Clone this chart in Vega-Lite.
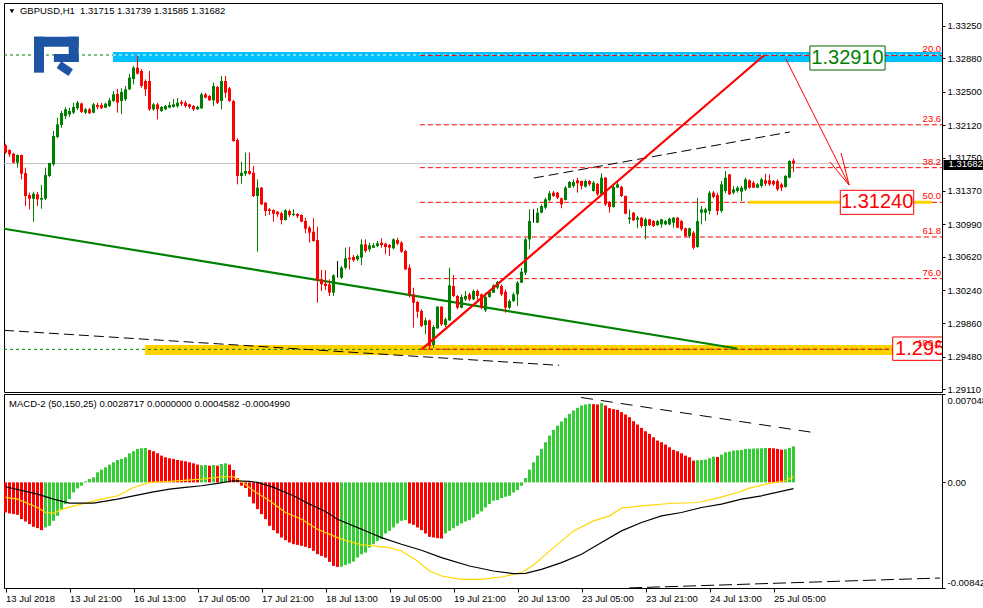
{
"$schema": "https://vega.github.io/schema/vega-lite/v6.json",
"background": "white",
"padding": {"left": 2, "top": 2, "right": 0, "bottom": 0},
"autosize": {"type": "pad"},
"spacing": 2,
"bounds": "flush",
"resolve": {"scale": {"color": "independent", "stroke": "independent"}},
"config": {
  "view": {"stroke": "#000000", "strokeWidth": 1},
  "axis": {"labelFont": "Liberation Sans", "labelFontSize": 9.5, "labelColor": "#000000", "tickColor": "#000000", "domainColor": "#000000", "grid": false, "title": null, "labelOverlap": false, "zindex": 0},
  "text": {"font": "Liberation Sans"}
},
"datasets": {
  "candles": [
{"i":0,"o":1.31893,"h":1.31908,"l":1.31794,"c":1.31806},
{"i":1,"o":1.31837,"h":1.31844,"l":1.31757,"c":1.31787},
{"i":2,"o":1.31794,"h":1.31806,"l":1.31683,"c":1.31692},
{"i":3,"o":1.31692,"h":1.31787,"l":1.31635,"c":1.31779},
{"i":4,"o":1.31779,"h":1.31785,"l":1.31502,"c":1.31566},
{"i":5,"o":1.31574,"h":1.31635,"l":1.31198,"c":1.31312},
{"i":6,"o":1.31323,"h":1.3135,"l":1.3116,"c":1.31281},
{"i":7,"o":1.31281,"h":1.31361,"l":1.31019,"c":1.31338},
{"i":8,"o":1.31331,"h":1.31358,"l":1.31198,"c":1.31274},
{"i":9,"o":1.3127,"h":1.31437,"l":1.31167,"c":1.31289},
{"i":10,"o":1.31281,"h":1.31635,"l":1.31266,"c":1.31551},
{"i":11,"o":1.3154,"h":1.31692,"l":1.31529,"c":1.31688},
{"i":12,"o":1.31673,"h":1.32053,"l":1.31654,"c":1.31996},
{"i":13,"o":1.31985,"h":1.32205,"l":1.3197,"c":1.32129},
{"i":14,"o":1.32121,"h":1.32281,"l":1.32091,"c":1.32258},
{"i":15,"o":1.32224,"h":1.32327,"l":1.3219,"c":1.323},
{"i":16,"o":1.32243,"h":1.32319,"l":1.32213,"c":1.32281},
{"i":17,"o":1.32262,"h":1.32376,"l":1.32247,"c":1.32327},
{"i":18,"o":1.32312,"h":1.32395,"l":1.32292,"c":1.32376},
{"i":19,"o":1.32367,"h":1.32376,"l":1.32258,"c":1.3227},
{"i":20,"o":1.32262,"h":1.32315,"l":1.32247,"c":1.323},
{"i":21,"o":1.323,"h":1.32315,"l":1.32247,"c":1.32255},
{"i":22,"o":1.32262,"h":1.32372,"l":1.32255,"c":1.32357},
{"i":23,"o":1.32349,"h":1.32376,"l":1.323,"c":1.32327},
{"i":24,"o":1.32349,"h":1.32372,"l":1.32304,"c":1.32312},
{"i":25,"o":1.32319,"h":1.32376,"l":1.32312,"c":1.32364},
{"i":26,"o":1.32338,"h":1.32429,"l":1.32327,"c":1.32403},
{"i":27,"o":1.32395,"h":1.32509,"l":1.32384,"c":1.32471},
{"i":28,"o":1.32475,"h":1.32532,"l":1.32262,"c":1.32376},
{"i":29,"o":1.32395,"h":1.3254,"l":1.32243,"c":1.32498},
{"i":30,"o":1.32414,"h":1.32566,"l":1.32395,"c":1.32528},
{"i":31,"o":1.32528,"h":1.32703,"l":1.3252,"c":1.32661},
{"i":32,"o":1.32646,"h":1.32794,"l":1.32585,"c":1.32775},
{"i":33,"o":1.32775,"h":1.32914,"l":1.32699,"c":1.32706},
{"i":34,"o":1.32737,"h":1.3276,"l":1.32547,"c":1.32566},
{"i":35,"o":1.32623,"h":1.32642,"l":1.32452,"c":1.32528},
{"i":36,"o":1.32623,"h":1.32737,"l":1.32281,"c":1.323},
{"i":37,"o":1.323,"h":1.32372,"l":1.32281,"c":1.32357},
{"i":38,"o":1.32357,"h":1.32376,"l":1.32186,"c":1.323},
{"i":39,"o":1.32281,"h":1.32338,"l":1.3227,"c":1.32327},
{"i":40,"o":1.323,"h":1.32349,"l":1.32292,"c":1.32338},
{"i":41,"o":1.32319,"h":1.32384,"l":1.32312,"c":1.32349},
{"i":42,"o":1.32327,"h":1.32418,"l":1.32319,"c":1.32357},
{"i":43,"o":1.32335,"h":1.32426,"l":1.32319,"c":1.32376},
{"i":44,"o":1.32384,"h":1.32406,"l":1.32338,"c":1.32364},
{"i":45,"o":1.32376,"h":1.32398,"l":1.32319,"c":1.32338},
{"i":46,"o":1.32357,"h":1.32364,"l":1.32304,"c":1.32327},
{"i":47,"o":1.32338,"h":1.32349,"l":1.32281,"c":1.323},
{"i":48,"o":1.323,"h":1.32338,"l":1.32292,"c":1.32327},
{"i":49,"o":1.32312,"h":1.3249,"l":1.32304,"c":1.32471},
{"i":50,"o":1.32471,"h":1.32486,"l":1.32426,"c":1.32433},
{"i":51,"o":1.32452,"h":1.32463,"l":1.32395,"c":1.32403},
{"i":52,"o":1.32403,"h":1.32604,"l":1.32338,"c":1.32566},
{"i":53,"o":1.32555,"h":1.32566,"l":1.32361,"c":1.32376},
{"i":54,"o":1.32395,"h":1.3268,"l":1.323,"c":1.32623},
{"i":55,"o":1.32623,"h":1.3268,"l":1.32433,"c":1.3249},
{"i":56,"o":1.3254,"h":1.32555,"l":1.32384,"c":1.32395},
{"i":57,"o":1.32395,"h":1.32406,"l":1.31928,"c":1.31939},
{"i":58,"o":1.3195,"h":1.3197,"l":1.31445,"c":1.3154},
{"i":59,"o":1.3154,"h":1.31703,"l":1.31452,"c":1.31578},
{"i":60,"o":1.31566,"h":1.31806,"l":1.3154,"c":1.31597},
{"i":61,"o":1.31597,"h":1.31806,"l":1.31551,"c":1.31566},
{"i":62,"o":1.31578,"h":1.31654,"l":1.31301,"c":1.31312},
{"i":63,"o":1.31312,"h":1.31502,"l":1.30677,"c":1.31407},
{"i":64,"o":1.31407,"h":1.31415,"l":1.31209,"c":1.31217},
{"i":65,"o":1.31236,"h":1.31244,"l":1.31084,"c":1.31141},
{"i":66,"o":1.3116,"h":1.31175,"l":1.31095,"c":1.31141},
{"i":67,"o":1.31152,"h":1.3116,"l":1.31019,"c":1.3111},
{"i":68,"o":1.31133,"h":1.31141,"l":1.31073,"c":1.31103},
{"i":69,"o":1.31115,"h":1.3113,"l":1.30989,"c":1.31038},
{"i":70,"o":1.31038,"h":1.3116,"l":1.31033,"c":1.31149},
{"i":71,"o":1.31141,"h":1.3116,"l":1.31073,"c":1.31095},
{"i":72,"o":1.31095,"h":1.3116,"l":1.31084,"c":1.3111},
{"i":73,"o":1.31107,"h":1.31118,"l":1.31061,"c":1.31081},
{"i":74,"o":1.31095,"h":1.31103,"l":1.31016,"c":1.31019},
{"i":75,"o":1.31027,"h":1.31065,"l":1.30887,"c":1.30939},
{"i":76,"o":1.30951,"h":1.3097,"l":1.3078,"c":1.30894},
{"i":77,"o":1.30905,"h":1.31058,"l":1.30791,"c":1.30799},
{"i":78,"o":1.3081,"h":1.30962,"l":1.30096,"c":1.30351},
{"i":79,"o":1.30362,"h":1.30468,"l":1.30229,"c":1.30305},
{"i":80,"o":1.30312,"h":1.30468,"l":1.30241,"c":1.30286},
{"i":81,"o":1.30305,"h":1.30362,"l":1.30172,"c":1.3021},
{"i":82,"o":1.3021,"h":1.30419,"l":1.30172,"c":1.30408},
{"i":83,"o":1.304,"h":1.30571,"l":1.30381,"c":1.304},
{"i":84,"o":1.30381,"h":1.30514,"l":1.30366,"c":1.30495},
{"i":85,"o":1.30495,"h":1.30723,"l":1.30476,"c":1.30602},
{"i":86,"o":1.30609,"h":1.30731,"l":1.30476,"c":1.3059},
{"i":87,"o":1.30617,"h":1.3064,"l":1.30563,"c":1.30579},
{"i":88,"o":1.3059,"h":1.30647,"l":1.30571,"c":1.30628},
{"i":89,"o":1.30609,"h":1.30818,"l":1.30525,"c":1.30761},
{"i":90,"o":1.30761,"h":1.30818,"l":1.30666,"c":1.30685},
{"i":91,"o":1.30704,"h":1.3078,"l":1.30677,"c":1.3075},
{"i":92,"o":1.30723,"h":1.30776,"l":1.30719,"c":1.3075},
{"i":93,"o":1.30742,"h":1.30799,"l":1.30731,"c":1.30773},
{"i":94,"o":1.3078,"h":1.3083,"l":1.30723,"c":1.30753},
{"i":95,"o":1.30768,"h":1.3078,"l":1.30647,"c":1.30731},
{"i":96,"o":1.30753,"h":1.30765,"l":1.30628,"c":1.30723},
{"i":97,"o":1.30716,"h":1.3083,"l":1.30704,"c":1.30818},
{"i":98,"o":1.30811,"h":1.30837,"l":1.30753,"c":1.30768},
{"i":99,"o":1.3078,"h":1.30799,"l":1.30666,"c":1.30677},
{"i":100,"o":1.30685,"h":1.30696,"l":1.30468,"c":1.30476},
{"i":101,"o":1.30495,"h":1.30533,"l":1.30153,"c":1.30191},
{"i":102,"o":1.30191,"h":1.30267,"l":1.29811,"c":1.30096},
{"i":103,"o":1.30104,"h":1.30115,"l":1.29925,"c":1.29993},
{"i":104,"o":1.30001,"h":1.3002,"l":1.29819,"c":1.2983},
{"i":105,"o":1.29841,"h":1.29925,"l":1.29735,"c":1.29895},
{"i":106,"o":1.29895,"h":1.29904,"l":1.29568,"c":1.29602},
{"i":107,"o":1.29614,"h":1.29841,"l":1.29583,"c":1.29819},
{"i":108,"o":1.29804,"h":1.30058,"l":1.29796,"c":1.3005},
{"i":109,"o":1.30051,"h":1.30058,"l":1.2983,"c":1.29849},
{"i":110,"o":1.29841,"h":1.29925,"l":1.29819,"c":1.29907},
{"i":111,"o":1.29895,"h":1.30495,"l":1.29887,"c":1.30294},
{"i":112,"o":1.30286,"h":1.30411,"l":1.30161,"c":1.30172},
{"i":113,"o":1.30172,"h":1.30184,"l":1.3002,"c":1.30039},
{"i":114,"o":1.30039,"h":1.30191,"l":1.30032,"c":1.30161},
{"i":115,"o":1.30134,"h":1.30229,"l":1.30115,"c":1.30172},
{"i":116,"o":1.30191,"h":1.3021,"l":1.30115,"c":1.30134},
{"i":117,"o":1.30134,"h":1.30248,"l":1.30126,"c":1.30229},
{"i":118,"o":1.30229,"h":1.30248,"l":1.30115,"c":1.30172},
{"i":119,"o":1.30191,"h":1.30201,"l":1.3002,"c":1.30039},
{"i":120,"o":1.30009,"h":1.3021,"l":1.2999,"c":1.30161},
{"i":121,"o":1.30161,"h":1.30229,"l":1.30153,"c":1.30221},
{"i":122,"o":1.3021,"h":1.30305,"l":1.30206,"c":1.30294},
{"i":123,"o":1.30267,"h":1.30343,"l":1.30252,"c":1.30332},
{"i":124,"o":1.30286,"h":1.30305,"l":1.30172,"c":1.30191},
{"i":125,"o":1.30221,"h":1.30248,"l":1.29982,"c":1.30039},
{"i":126,"o":1.30039,"h":1.30134,"l":1.3002,"c":1.30115},
{"i":127,"o":1.30115,"h":1.3021,"l":1.30104,"c":1.30191},
{"i":128,"o":1.30191,"h":1.30343,"l":1.30058,"c":1.30324},
{"i":129,"o":1.30324,"h":1.30495,"l":1.3032,"c":1.30449},
{"i":130,"o":1.30438,"h":1.30837,"l":1.30411,"c":1.30818},
{"i":131,"o":1.30818,"h":1.3116,"l":1.30704,"c":1.31027},
{"i":132,"o":1.31027,"h":1.3116,"l":1.31008,"c":1.31027},
{"i":133,"o":1.31008,"h":1.31175,"l":1.31004,"c":1.31122},
{"i":134,"o":1.31122,"h":1.31217,"l":1.31115,"c":1.31198},
{"i":135,"o":1.31179,"h":1.31293,"l":1.3116,"c":1.31274},
{"i":136,"o":1.31263,"h":1.31369,"l":1.31255,"c":1.31343},
{"i":137,"o":1.3135,"h":1.31369,"l":1.31301,"c":1.31312},
{"i":138,"o":1.3135,"h":1.31358,"l":1.31278,"c":1.31293},
{"i":139,"o":1.31286,"h":1.31293,"l":1.31172,"c":1.31217},
{"i":140,"o":1.31267,"h":1.31426,"l":1.31261,"c":1.31407},
{"i":141,"o":1.31407,"h":1.31483,"l":1.31403,"c":1.31472},
{"i":142,"o":1.31426,"h":1.31502,"l":1.31407,"c":1.31472},
{"i":143,"o":1.31491,"h":1.31521,"l":1.3135,"c":1.31457},
{"i":144,"o":1.31483,"h":1.31489,"l":1.31388,"c":1.31426},
{"i":145,"o":1.31418,"h":1.31502,"l":1.31407,"c":1.31483},
{"i":146,"o":1.31483,"h":1.31494,"l":1.31426,"c":1.31445},
{"i":147,"o":1.31369,"h":1.31483,"l":1.31363,"c":1.31464},
{"i":148,"o":1.31452,"h":1.3146,"l":1.31312,"c":1.31331},
{"i":149,"o":1.31331,"h":1.31571,"l":1.31326,"c":1.31521},
{"i":150,"o":1.31521,"h":1.31529,"l":1.31198,"c":1.31217},
{"i":151,"o":1.31244,"h":1.31255,"l":1.31122,"c":1.31187},
{"i":152,"o":1.31187,"h":1.31426,"l":1.31181,"c":1.31415},
{"i":153,"o":1.31407,"h":1.31475,"l":1.31403,"c":1.31445},
{"i":154,"o":1.31418,"h":1.31426,"l":1.31301,"c":1.31312},
{"i":155,"o":1.31312,"h":1.31318,"l":1.31103,"c":1.3111},
{"i":156,"o":1.31046,"h":1.3116,"l":1.30996,"c":1.31065},
{"i":157,"o":1.31122,"h":1.3113,"l":1.31027,"c":1.31035},
{"i":158,"o":1.31042,"h":1.31084,"l":1.30944,"c":1.31065},
{"i":159,"o":1.31065,"h":1.31073,"l":1.30951,"c":1.3097},
{"i":160,"o":1.3097,"h":1.31065,"l":1.30818,"c":1.31046},
{"i":161,"o":1.31046,"h":1.31054,"l":1.3097,"c":1.30981},
{"i":162,"o":1.31027,"h":1.31038,"l":1.30959,"c":1.3097},
{"i":163,"o":1.30981,"h":1.31038,"l":1.3097,"c":1.31027},
{"i":164,"o":1.30989,"h":1.31054,"l":1.30951,"c":1.31046},
{"i":165,"o":1.30989,"h":1.31038,"l":1.30981,"c":1.31027},
{"i":166,"o":1.30989,"h":1.31065,"l":1.30978,"c":1.31053},
{"i":167,"o":1.31008,"h":1.31073,"l":1.30951,"c":1.31065},
{"i":168,"o":1.31065,"h":1.31073,"l":1.30947,"c":1.30951},
{"i":169,"o":1.31027,"h":1.31038,"l":1.30913,"c":1.30932},
{"i":170,"o":1.30944,"h":1.30951,"l":1.30845,"c":1.30856},
{"i":171,"o":1.30856,"h":1.30951,"l":1.30833,"c":1.30944},
{"i":172,"o":1.30894,"h":1.30913,"l":1.30704,"c":1.30723},
{"i":173,"o":1.30731,"h":1.31293,"l":1.30723,"c":1.31027},
{"i":174,"o":1.31122,"h":1.31198,"l":1.30989,"c":1.3116},
{"i":175,"o":1.31122,"h":1.31179,"l":1.31027,"c":1.3116},
{"i":176,"o":1.31141,"h":1.31369,"l":1.31103,"c":1.3135},
{"i":177,"o":1.3135,"h":1.31369,"l":1.31286,"c":1.31301},
{"i":178,"o":1.31323,"h":1.3135,"l":1.31095,"c":1.31141},
{"i":179,"o":1.31141,"h":1.31483,"l":1.31122,"c":1.31445},
{"i":180,"o":1.31369,"h":1.31597,"l":1.31346,"c":1.31521},
{"i":181,"o":1.31559,"h":1.31563,"l":1.31323,"c":1.31331},
{"i":182,"o":1.3135,"h":1.31426,"l":1.31331,"c":1.31388},
{"i":183,"o":1.31369,"h":1.31426,"l":1.3135,"c":1.31407},
{"i":184,"o":1.31361,"h":1.31426,"l":1.31255,"c":1.31407},
{"i":185,"o":1.31388,"h":1.31521,"l":1.31369,"c":1.31502},
{"i":186,"o":1.31491,"h":1.31502,"l":1.31395,"c":1.31407},
{"i":187,"o":1.31464,"h":1.31483,"l":1.31403,"c":1.31407},
{"i":188,"o":1.31407,"h":1.3146,"l":1.31403,"c":1.31445},
{"i":189,"o":1.31426,"h":1.31521,"l":1.31407,"c":1.31502},
{"i":190,"o":1.31491,"h":1.31566,"l":1.31426,"c":1.31452},
{"i":191,"o":1.31491,"h":1.31559,"l":1.31426,"c":1.31445},
{"i":192,"o":1.31483,"h":1.31494,"l":1.31426,"c":1.31445},
{"i":193,"o":1.31483,"h":1.31502,"l":1.31369,"c":1.31388},
{"i":194,"o":1.31445,"h":1.31464,"l":1.31369,"c":1.31407},
{"i":195,"o":1.31415,"h":1.31551,"l":1.31407,"c":1.3154},
{"i":196,"o":1.31521,"h":1.31719,"l":1.31514,"c":1.31711},
{"i":197,"o":1.31715,"h":1.31739,"l":1.31585,"c":1.31682}
  ],
  "hist": [
{"i":0,"v":-0.002399,"s":"dn"},{"i":1,"v":-0.002479,"s":"dn"},{"i":2,"v":-0.002533,"s":"dn"},{"i":3,"v":-0.002586,"s":"dn"},{"i":4,"v":-0.002933,"s":"dn"},
{"i":5,"v":-0.003119,"s":"dn"},{"i":6,"v":-0.003333,"s":"dn"},{"i":7,"v":-0.003546,"s":"dn"},{"i":8,"v":-0.003652,"s":"dn"},{"i":9,"v":-0.003812,"s":"dn"},
{"i":10,"v":-0.003599,"s":"up"},{"i":11,"v":-0.003466,"s":"up"},{"i":12,"v":-0.003066,"s":"up"},{"i":13,"v":-0.002666,"s":"up"},{"i":14,"v":-0.002133,"s":"up"},
{"i":15,"v":-0.001733,"s":"up"},{"i":16,"v":-0.001333,"s":"up"},{"i":17,"v":-0.0008,"s":"up"},{"i":18,"v":-0.00048,"s":"up"},{"i":19,"v":-0.000267,"s":"up"},
{"i":20,"v":0.00008,"s":"up"},{"i":21,"v":0.000267,"s":"up"},{"i":22,"v":0.0004,"s":"up"},{"i":23,"v":0.0008,"s":"up"},{"i":24,"v":0.001013,"s":"up"},
{"i":25,"v":0.0012,"s":"up"},{"i":26,"v":0.001413,"s":"up"},{"i":27,"v":0.0016,"s":"up"},{"i":28,"v":0.001786,"s":"up"},{"i":29,"v":0.001866,"s":"up"},
{"i":30,"v":0.002,"s":"up"},{"i":31,"v":0.002319,"s":"up"},{"i":32,"v":0.002479,"s":"up"},{"i":33,"v":0.002666,"s":"up"},{"i":34,"v":0.002719,"s":"up"},
{"i":35,"v":0.002746,"s":"up"},{"i":36,"v":0.002586,"s":"dn"},{"i":37,"v":0.002479,"s":"dn"},{"i":38,"v":0.002319,"s":"dn"},{"i":39,"v":0.002133,"s":"dn"},
{"i":40,"v":0.002,"s":"dn"},{"i":41,"v":0.00192,"s":"dn"},{"i":42,"v":0.001866,"s":"dn"},{"i":43,"v":0.001786,"s":"dn"},{"i":44,"v":0.001733,"s":"dn"},
{"i":45,"v":0.00168,"s":"dn"},{"i":46,"v":0.0016,"s":"dn"},{"i":47,"v":0.00152,"s":"dn"},{"i":48,"v":0.001413,"s":"dn"},{"i":49,"v":0.00136,"s":"up"},
{"i":50,"v":0.001386,"s":"up"},{"i":51,"v":0.001333,"s":"dn"},{"i":52,"v":0.001386,"s":"up"},{"i":53,"v":0.001333,"s":"dn"},{"i":54,"v":0.001466,"s":"up"},
{"i":55,"v":0.00152,"s":"up"},{"i":56,"v":0.001413,"s":"dn"},{"i":57,"v":0.000986,"s":"dn"},{"i":58,"v":0.000347,"s":"dn"},{"i":59,"v":-0.000267,"s":"dn"},
{"i":60,"v":-0.000453,"s":"dn"},{"i":61,"v":-0.001146,"s":"dn"},{"i":62,"v":-0.00168,"s":"dn"},{"i":63,"v":-0.002133,"s":"dn"},{"i":64,"v":-0.002533,"s":"dn"},
{"i":65,"v":-0.002933,"s":"dn"},{"i":66,"v":-0.003466,"s":"dn"},{"i":67,"v":-0.003812,"s":"dn"},{"i":68,"v":-0.004079,"s":"dn"},{"i":69,"v":-0.004399,"s":"dn"},
{"i":70,"v":-0.004612,"s":"dn"},{"i":71,"v":-0.004799,"s":"dn"},{"i":72,"v":-0.004932,"s":"dn"},{"i":73,"v":-0.004985,"s":"dn"},{"i":74,"v":-0.005065,"s":"dn"},
{"i":75,"v":-0.005145,"s":"dn"},{"i":76,"v":-0.005252,"s":"dn"},{"i":77,"v":-0.005465,"s":"dn"},{"i":78,"v":-0.005732,"s":"dn"},{"i":79,"v":-0.005865,"s":"dn"},
{"i":80,"v":-0.005999,"s":"dn"},{"i":81,"v":-0.006345,"s":"dn"},{"i":82,"v":-0.006665,"s":"dn"},{"i":83,"v":-0.006745,"s":"dn"},{"i":84,"v":-0.006718,"s":"up"},
{"i":85,"v":-0.006585,"s":"up"},{"i":86,"v":-0.006478,"s":"up"},{"i":87,"v":-0.006318,"s":"up"},{"i":88,"v":-0.005999,"s":"up"},{"i":89,"v":-0.005732,"s":"up"},
{"i":90,"v":-0.005599,"s":"up"},{"i":91,"v":-0.005199,"s":"up"},{"i":92,"v":-0.004932,"s":"up"},{"i":93,"v":-0.004666,"s":"up"},{"i":94,"v":-0.004532,"s":"up"},
{"i":95,"v":-0.004079,"s":"up"},{"i":96,"v":-0.003866,"s":"up"},{"i":97,"v":-0.003599,"s":"up"},{"i":98,"v":-0.003279,"s":"up"},{"i":99,"v":-0.003066,"s":"up"},
{"i":100,"v":-0.003013,"s":"up"},{"i":101,"v":-0.003279,"s":"dn"},{"i":102,"v":-0.003386,"s":"dn"},{"i":103,"v":-0.003599,"s":"dn"},{"i":104,"v":-0.003812,"s":"dn"},
{"i":105,"v":-0.004079,"s":"dn"},{"i":106,"v":-0.004346,"s":"dn"},{"i":107,"v":-0.004399,"s":"dn"},{"i":108,"v":-0.004452,"s":"dn"},{"i":109,"v":-0.004479,"s":"dn"},
{"i":110,"v":-0.004079,"s":"up"},{"i":111,"v":-0.003866,"s":"up"},{"i":112,"v":-0.003652,"s":"up"},{"i":113,"v":-0.003466,"s":"up"},{"i":114,"v":-0.003279,"s":"up"},
{"i":115,"v":-0.003119,"s":"up"},{"i":116,"v":-0.003013,"s":"up"},{"i":117,"v":-0.002799,"s":"up"},{"i":118,"v":-0.002533,"s":"up"},{"i":119,"v":-0.002319,"s":"up"},
{"i":120,"v":-0.002,"s":"up"},{"i":121,"v":-0.001733,"s":"up"},{"i":122,"v":-0.001466,"s":"up"},{"i":123,"v":-0.001413,"s":"up"},{"i":124,"v":-0.001253,"s":"up"},
{"i":125,"v":-0.001146,"s":"up"},{"i":126,"v":-0.001066,"s":"up"},{"i":127,"v":-0.0008,"s":"up"},{"i":128,"v":-0.000613,"s":"up"},{"i":129,"v":-0.000267,"s":"up"},
{"i":130,"v":0.000347,"s":"up"},{"i":131,"v":0.001013,"s":"up"},{"i":132,"v":0.0016,"s":"up"},{"i":133,"v":0.002133,"s":"up"},{"i":134,"v":0.002666,"s":"up"},
{"i":135,"v":0.003199,"s":"up"},{"i":136,"v":0.003732,"s":"up"},{"i":137,"v":0.004186,"s":"up"},{"i":138,"v":0.004532,"s":"up"},{"i":139,"v":0.004852,"s":"up"},
{"i":140,"v":0.005145,"s":"up"},{"i":141,"v":0.005465,"s":"up"},{"i":142,"v":0.005732,"s":"up"},{"i":143,"v":0.005945,"s":"up"},{"i":144,"v":0.006132,"s":"up"},
{"i":145,"v":0.006212,"s":"up"},{"i":146,"v":0.006265,"s":"up"},{"i":147,"v":0.006238,"s":"dn"},{"i":148,"v":0.006212,"s":"dn"},{"i":149,"v":0.006318,"s":"up"},
{"i":150,"v":0.006132,"s":"dn"},{"i":151,"v":0.005919,"s":"dn"},{"i":152,"v":0.005839,"s":"dn"},{"i":153,"v":0.005785,"s":"dn"},{"i":154,"v":0.005599,"s":"dn"},
{"i":155,"v":0.005412,"s":"dn"},{"i":156,"v":0.005199,"s":"dn"},{"i":157,"v":0.004879,"s":"dn"},{"i":158,"v":0.004612,"s":"dn"},{"i":159,"v":0.004346,"s":"dn"},
{"i":160,"v":0.004079,"s":"dn"},{"i":161,"v":0.003866,"s":"dn"},{"i":162,"v":0.003599,"s":"dn"},{"i":163,"v":0.003333,"s":"dn"},{"i":164,"v":0.003199,"s":"dn"},
{"i":165,"v":0.003013,"s":"dn"},{"i":166,"v":0.002799,"s":"dn"},{"i":167,"v":0.002586,"s":"dn"},{"i":168,"v":0.002479,"s":"dn"},{"i":169,"v":0.002319,"s":"dn"},
{"i":170,"v":0.002133,"s":"dn"},{"i":171,"v":0.002,"s":"dn"},{"i":172,"v":0.001733,"s":"dn"},{"i":173,"v":0.00176,"s":"up"},{"i":174,"v":0.001786,"s":"up"},
{"i":175,"v":0.001813,"s":"up"},{"i":176,"v":0.00192,"s":"up"},{"i":177,"v":0.002053,"s":"up"},{"i":178,"v":0.002026,"s":"dn"},{"i":179,"v":0.002213,"s":"up"},
{"i":180,"v":0.002399,"s":"up"},{"i":181,"v":0.002453,"s":"up"},{"i":182,"v":0.002533,"s":"up"},{"i":183,"v":0.002559,"s":"up"},{"i":184,"v":0.002586,"s":"up"},
{"i":185,"v":0.002666,"s":"up"},{"i":186,"v":0.002679,"s":"up"},{"i":187,"v":0.002693,"s":"up"},{"i":188,"v":0.002706,"s":"up"},{"i":189,"v":0.002719,"s":"up"},
{"i":190,"v":0.002746,"s":"up"},{"i":191,"v":0.002733,"s":"dn"},{"i":192,"v":0.002719,"s":"dn"},{"i":193,"v":0.002666,"s":"dn"},{"i":194,"v":0.002613,"s":"dn"},
{"i":195,"v":0.002639,"s":"up"},{"i":196,"v":0.002746,"s":"up"},{"i":197,"v":0.0028717,"s":"up"}
  ],
  "mainline": [
{"i":0,"v":-0.000352},{"i":8,"v":-0.000938},{"i":12,"v":-0.001338},{"i":16,"v":-0.001658},{"i":22,"v":-0.001658},{"i":28,"v":-0.001338},{"i":32,"v":-0.001072},{"i":37,"v":-0.000752},{"i":41,"v":-0.000539},{"i":45,"v":-0.000405},{"i":49,"v":-0.000272},{"i":53,"v":-0.000085},{"i":57,"v":0.000128},{"i":61,"v":0.000075},{"i":63,"v":-0.000005},{"i":67,"v":-0.000405},{"i":72,"v":-0.001072},{"i":76,"v":-0.001738},{"i":80,"v":-0.002325},{"i":83,"v":-0.002938},{"i":87,"v":-0.003471},{"i":91,"v":-0.004004},{"i":94,"v":-0.004404},{"i":99,"v":-0.004938},{"i":104,"v":-0.005417},{"i":109,"v":-0.006004},{"i":116,"v":-0.00667},{"i":122,"v":-0.00707},{"i":127,"v":-0.007283},{"i":130,"v":-0.007257},{"i":134,"v":-0.006937},{"i":139,"v":-0.006404},{"i":144,"v":-0.005737},{"i":149,"v":-0.004804},{"i":154,"v":-0.003871},{"i":159,"v":-0.003204},{"i":164,"v":-0.002671},{"i":169,"v":-0.002405},{"i":174,"v":-0.002005},{"i":179,"v":-0.001738},{"i":184,"v":-0.001338},{"i":189,"v":-0.001072},{"i":197,"v":-0.000499}
  ],
  "signal": [
{"i":0,"v":-0.001205},{"i":3,"v":-0.001338},{"i":8,"v":-0.002005},{"i":10,"v":-0.002405},{"i":12,"v":-0.002458},{"i":15,"v":-0.002058},{"i":19,"v":-0.001738},{"i":24,"v":-0.001338},{"i":28,"v":-0.001072},{"i":32,"v":-0.000405},{"i":36,"v":-0.000005},{"i":41,"v":0.000075},{"i":49,"v":0.000261},{"i":54,"v":0.000448},{"i":57,"v":0.000448},{"i":59,"v":0.000075},{"i":62,"v":-0.000672},{"i":66,"v":-0.001472},{"i":70,"v":-0.002405},{"i":74,"v":-0.002938},{"i":78,"v":-0.003738},{"i":83,"v":-0.004404},{"i":86,"v":-0.004724},{"i":89,"v":-0.00499},{"i":92,"v":-0.005071},{"i":96,"v":-0.005204},{"i":99,"v":-0.005471},{"i":103,"v":-0.00627},{"i":106,"v":-0.00707},{"i":109,"v":-0.00747},{"i":114,"v":-0.007737},{"i":119,"v":-0.007737},{"i":124,"v":-0.00755},{"i":129,"v":-0.007204},{"i":132,"v":-0.00659},{"i":137,"v":-0.005204},{"i":142,"v":-0.003871},{"i":147,"v":-0.003071},{"i":151,"v":-0.002671},{"i":154,"v":-0.002058},{"i":159,"v":-0.001871},{"i":166,"v":-0.001685},{"i":173,"v":-0.001605},{"i":178,"v":-0.001258},{"i":183,"v":-0.000805},{"i":186,"v":-0.000459},{"i":191,"v":-0.000085},{"i":195,"v":0.000128},{"i":197,"v":0.0004582}
  ],
  "segments": [
{"k":"green","x1":-0.375,"p1":1.30939,"x2":182.9,"p2":1.29574},
{"k":"red","x1":104.1,"p1":1.29566,"x2":189.6,"p2":1.32914},
{"k":"lowdash","x1":-0.375,"p1":1.29781,"x2":138.4,"p2":1.29382},
{"k":"updash","x1":132.1,"p1":1.31517,"x2":196.1,"p2":1.32042},
{"k":"arrow","x1":195.1,"p1":1.32874,"x2":210.9,"p2":1.31437},
{"k":"arrow","x1":206.1,"p1":1.317,"x2":210.9,"p2":1.31437},
{"k":"arrow","x1":208.9,"p1":1.31802,"x2":210.9,"p2":1.31437}
  ],
  "fib": [
{"lvl":"20.0","p":1.32914},{"lvl":"23.6","p":1.32124},{"lvl":"38.2","p":1.31635},{"lvl":"50.0","p":1.3124},{"lvl":"61.8","p":1.30845},{"lvl":"76.0","p":1.3037},{"lvl":"100.0","p":1.29566}
  ],
  "logo": [
{"part":"stem","x1":7.125,"x2":9.625,"lo":1.32718,"hi":1.33128},
{"part":"top","x1":7.125,"x2":18.3,"lo":1.33014,"hi":1.33128},
{"part":"side","x1":15.8,"x2":18.3,"lo":1.3284,"hi":1.33128},
{"part":"middle","x1":12.1,"x2":18.3,"lo":1.3284,"hi":1.32931}
  ]
},
"vconcat": [
{
  "width": 938,
  "height": 389,
  "layer": [
    {
      "data": {"values": [{"p": 1.31682}]},
      "mark": {"type": "rule", "color": "#C0C0C0", "strokeWidth": 1},
      "encoding": {
        "x": {"datum": -0.375, "type": "quantitative", "scale": {"domain": [-0.375, 234.125], "nice": false, "zero": false}, "axis": null},
        "x2": {"datum": 234.125},
        "y": {"field": "p", "type": "quantitative", "scale": {"domain": [1.29078, 1.33512], "nice": false, "zero": false},
              "axis": {"orient": "right", "values": [1.2911, 1.2948, 1.2986, 1.3024, 1.3062, 1.3099, 1.3137, 1.3175, 1.3212, 1.325, 1.3288, 1.3325], "tickCount": 40, "format": ".5f", "tickSize": 3, "labelPadding": 2, "domain": false, "labelOverlap": false, "labelBound": false}}
      }
    },
    {
      "data": {"values": [{"k": "resistance", "x1": 26.875, "x2": 234.125, "lo": 1.3284, "hi": 1.32954}]},
      "mark": {"type": "rect", "color": "#00BFFF"},
      "encoding": {
        "x": {"field": "x1", "type": "quantitative"}, "x2": {"field": "x2"},
        "y": {"field": "lo", "type": "quantitative"}, "y2": {"field": "hi"}
      }
    },
    {
      "data": {"values": [{"k": "support", "x1": 34.9, "x2": 234.125, "lo": 1.29499, "hi": 1.29613}]},
      "mark": {"type": "rect", "color": "#FFD200"},
      "encoding": {
        "x": {"field": "x1", "type": "quantitative"}, "x2": {"field": "x2"},
        "y": {"field": "lo", "type": "quantitative"}, "y2": {"field": "hi"}
      }
    },
    {
      "data": {"values": [{"x1": -0.375, "x2": 26.875, "p": 1.32919}, {"x1": -0.375, "x2": 234.125, "p": 1.29564}]},
      "mark": {"type": "rule", "color": "#008000", "strokeWidth": 1, "strokeDash": [3, 3]},
      "encoding": {
        "x": {"field": "x1", "type": "quantitative"}, "x2": {"field": "x2"},
        "y": {"field": "p", "type": "quantitative"}
      }
    },
    {
      "data": {"values": [{"x1": 26.875, "x2": 234.125, "p": 1.32919}]},
      "mark": {"type": "rule", "color": "#FFFFFF", "strokeWidth": 1, "strokeDash": [3, 3]},
      "encoding": {
        "x": {"field": "x1", "type": "quantitative"}, "x2": {"field": "x2"},
        "y": {"field": "p", "type": "quantitative"}
      }
    },
    {
      "data": {"name": "fib"},
      "mark": {"type": "rule", "color": "#FF0000", "strokeWidth": 1, "strokeDash": [5, 3]},
      "encoding": {
        "x": {"datum": 103.6, "type": "quantitative"}, "x2": {"datum": 234.125},
        "y": {"field": "p", "type": "quantitative"}
      }
    },
    {
      "data": {"name": "segments"},
      "transform": [{"filter": "datum.k == 'lowdash' || datum.k == 'updash'"}],
      "mark": {"type": "rule", "color": "#000000", "strokeWidth": 1, "strokeDash": [10, 5]},
      "encoding": {
        "x": {"field": "x1", "type": "quantitative"}, "x2": {"field": "x2"},
        "y": {"field": "p1", "type": "quantitative"}, "y2": {"field": "p2"}
      }
    },
    {
      "data": {"name": "segments"},
      "transform": [{"filter": "datum.k == 'green'"}],
      "mark": {"type": "rule", "color": "#008000", "strokeWidth": 2.2},
      "encoding": {
        "x": {"field": "x1", "type": "quantitative"}, "x2": {"field": "x2"},
        "y": {"field": "p1", "type": "quantitative"}, "y2": {"field": "p2"}
      }
    },
    {
      "data": {"name": "candles"},
      "mark": {"type": "rule", "strokeWidth": 1, "clip": true},
      "encoding": {
        "x": {"field": "i", "type": "quantitative"},
        "y": {"field": "l", "type": "quantitative"}, "y2": {"field": "h"},
        "color": {"condition": [{"test": "datum.c == datum.o", "value": "#000000"}, {"test": "datum.c > datum.o", "value": "#008000"}], "value": "#FF0000"}
      }
    },
    {
      "data": {"name": "candles"},
      "mark": {"type": "rule", "strokeWidth": 3, "strokeCap": "butt", "clip": true},
      "encoding": {
        "x": {"field": "i", "type": "quantitative"},
        "y": {"field": "o", "type": "quantitative"}, "y2": {"field": "c"},
        "color": {"condition": [{"test": "datum.c == datum.o", "value": "#000000"}, {"test": "datum.c > datum.o", "value": "#008000"}], "value": "#FF0000"}
      }
    },
    {
      "data": {"name": "segments"},
      "transform": [{"filter": "datum.k == 'red'"}],
      "mark": {"type": "rule", "color": "#FF0000", "strokeWidth": 2.2},
      "encoding": {
        "x": {"field": "x1", "type": "quantitative"}, "x2": {"field": "x2"},
        "y": {"field": "p1", "type": "quantitative"}, "y2": {"field": "p2"}
      }
    },
    {
      "data": {"name": "segments"},
      "transform": [{"filter": "datum.k == 'arrow'"}],
      "mark": {"type": "rule", "color": "#FF0000", "strokeWidth": 1},
      "encoding": {
        "x": {"field": "x1", "type": "quantitative"}, "x2": {"field": "x2"},
        "y": {"field": "p1", "type": "quantitative"}, "y2": {"field": "p2"}
      }
    },
    {
      "data": {"values": [{"x1": 185.9, "x2": 231.6, "p": 1.3124}]},
      "mark": {"type": "rule", "color": "#FFD200", "strokeWidth": 3},
      "encoding": {
        "x": {"field": "x1", "type": "quantitative"}, "x2": {"field": "x2"},
        "y": {"field": "p", "type": "quantitative"}
      }
    },
    {
      "data": {"values": [{"x1": 201.1, "x2": 219.9, "lo": 1.32748, "hi": 1.33022}]},
      "mark": {"type": "rect", "fill": "#FFFFFF", "stroke": "#006400", "strokeWidth": 1},
      "encoding": {
        "x": {"field": "x1", "type": "quantitative"}, "x2": {"field": "x2"},
        "y": {"field": "lo", "type": "quantitative"}, "y2": {"field": "hi"}
      }
    },
    {
      "data": {"values": [{"x1": 208.7, "x2": 227.05, "lo": 1.31103, "hi": 1.31377}, {"x1": 221.8, "x2": 240, "lo": 1.29439, "hi": 1.29705}]},
      "mark": {"type": "rect", "fill": "#FFFFFF", "stroke": "#FF0000", "strokeWidth": 1, "clip": true},
      "encoding": {
        "x": {"field": "x1", "type": "quantitative"}, "x2": {"field": "x2"},
        "y": {"field": "lo", "type": "quantitative"}, "y2": {"field": "hi"}
      }
    },
    {
      "data": {"values": [{"t": "1.32910", "x": 210.5, "p": 1.32885}]},
      "mark": {"type": "text", "fontSize": 20, "align": "center", "baseline": "middle", "font": "Liberation Sans", "color": "#008000"},
      "encoding": {
        "x": {"field": "x", "type": "quantitative"},
        "y": {"field": "p", "type": "quantitative"},
        "text": {"field": "t"}
      }
    },
    {
      "data": {"values": [{"t": "1.31240", "x": 217.9, "p": 1.3124}]},
      "mark": {"type": "text", "fontSize": 20, "align": "center", "baseline": "middle", "font": "Liberation Sans", "color": "#FF0000"},
      "encoding": {
        "x": {"field": "x", "type": "quantitative"},
        "y": {"field": "p", "type": "quantitative"},
        "text": {"field": "t"}
      }
    },
    {
      "data": {"values": [{"t": "1.29560", "x": 222.4, "p": 1.29571}]},
      "mark": {"type": "text", "fontSize": 20, "align": "left", "baseline": "middle", "font": "Liberation Sans", "color": "#FF0000", "clip": true},
      "encoding": {
        "x": {"field": "x", "type": "quantitative"},
        "y": {"field": "p", "type": "quantitative"},
        "text": {"field": "t"}
      }
    },
    {
      "data": {"name": "fib"},
      "mark": {"type": "text", "fontSize": 9.5, "align": "right", "baseline": "bottom", "dy": -1, "color": "#FF0000"},
      "encoding": {
        "x": {"datum": 233.9, "type": "quantitative"},
        "y": {"field": "p", "type": "quantitative"},
        "text": {"field": "lvl"}
      }
    },
    {
      "data": {"values": [{"t": "GBPUSD,H1\u00a0 1.31715 1.31739 1.31585 1.31682", "x": 3.6, "p": 1.33421}]},
      "mark": {"type": "text", "fontSize": 9.5, "align": "left", "baseline": "middle", "color": "#000000"},
      "encoding": {
        "x": {"field": "x", "type": "quantitative"},
        "y": {"field": "p", "type": "quantitative"},
        "text": {"field": "t"}
      }
    },
    {
      "data": {"values": [{"x": 1.6, "p": 1.33418}]},
      "mark": {"type": "point", "shape": "triangle-down", "filled": true, "size": 22, "color": "#000000", "opacity": 1},
      "encoding": {
        "x": {"field": "x", "type": "quantitative"},
        "y": {"field": "p", "type": "quantitative"}
      }
    },
    {
      "data": {"name": "logo"},
      "mark": {"type": "rect", "color": "#1D54A3"},
      "encoding": {
        "x": {"field": "x1", "type": "quantitative"}, "x2": {"field": "x2"},
        "y": {"field": "lo", "type": "quantitative"}, "y2": {"field": "hi"}
      }
    },
    {
      "data": {"values": [{"x1": 13.35, "p1": 1.32809, "x2": 16.3, "p2": 1.32718}]},
      "mark": {"type": "rule", "color": "#1D54A3", "strokeWidth": 8, "strokeCap": "butt"},
      "encoding": {
        "x": {"field": "x1", "type": "quantitative"}, "x2": {"field": "x2"},
        "y": {"field": "p1", "type": "quantitative"}, "y2": {"field": "p2"}
      }
    },
    {
      "data": {"values": [{"x1": 234.5, "x2": 244.9, "lo": 1.31608, "hi": 1.31722}]},
      "mark": {"type": "rect", "color": "#000000"},
      "encoding": {
        "x": {"field": "x1", "type": "quantitative"}, "x2": {"field": "x2"},
        "y": {"field": "lo", "type": "quantitative"}, "y2": {"field": "hi"}
      }
    },
    {
      "data": {"values": [{"t": "1.31682", "x": 235.75, "p": 1.31682}]},
      "mark": {"type": "text", "fontSize": 9.5, "align": "left", "baseline": "middle", "color": "#FFFFFF"},
      "encoding": {
        "x": {"field": "x", "type": "quantitative"},
        "y": {"field": "p", "type": "quantitative"},
        "text": {"field": "t"}
      }
    }
  ]
},
{
  "width": 938,
  "height": 194,
  "layer": [
    {
      "data": {"name": "hist"},
      "mark": {"type": "rule", "strokeWidth": 3, "strokeCap": "butt"},
      "encoding": {
        "x": {"field": "i", "type": "quantitative", "scale": {"domain": [-0.375, 234.125], "nice": false, "zero": false},
              "axis": {"orient": "bottom", "values": [0, 16, 32, 48, 64, 80, 96, 112, 128, 144, 160, 176, 192], "tickCount": 40,
                       "labelExpr": "['13 Jul 2018','13 Jul 21:00','16 Jul 13:00','17 Jul 05:00','17 Jul 21:00','18 Jul 13:00','19 Jul 05:00','19 Jul 21:00','20 Jul 13:00','23 Jul 05:00','23 Jul 21:00','24 Jul 13:00','25 Jul 05:00'][round(datum.value/16)]",
                       "labelAlign": "left", "labelFlush": false, "tickSize": 4, "labelPadding": 1, "domain": false, "labelOverlap": false}},
        "y": {"field": "v", "type": "quantitative", "scale": {"domain": [-0.008426, 0.007048], "nice": false, "zero": false},
              "axis": {"orient": "right", "values": [-0.008426, 0, 0.007048], "tickCount": 10,
                       "labelExpr": "datum.value > 0 ? '0.007048' : (datum.value < 0 ? '-0.008426' : '0.00')",
                       "labelFlush": false,
                       "labelBaseline": {"condition": [{"test": "datum.value > 0", "value": "top"}, {"test": "datum.value < 0", "value": "bottom"}], "value": "middle"},
                       "labelOffset": {"condition": [{"test": "datum.value > 0", "value": 1}, {"test": "datum.value < 0", "value": -1}], "value": 0},
                       "tickSize": 3, "labelPadding": 2, "domain": false, "labelOverlap": false}},
        "y2": {"datum": 0},
        "color": {"field": "s", "type": "nominal", "scale": {"domain": ["up", "dn"], "range": ["#32CD32", "#FF0000"]}, "legend": null}
      }
    },
    {
      "data": {"name": "signal"},
      "mark": {"type": "line", "color": "#FFD700", "strokeWidth": 1.2},
      "encoding": {
        "x": {"field": "i", "type": "quantitative"},
        "y": {"field": "v", "type": "quantitative"}
      }
    },
    {
      "data": {"name": "mainline"},
      "mark": {"type": "line", "color": "#000000", "strokeWidth": 1.2},
      "encoding": {
        "x": {"field": "i", "type": "quantitative"},
        "y": {"field": "v", "type": "quantitative"}
      }
    },
    {
      "data": {"values": [{"x1": 143.9, "v1": 0.00677, "x2": 202.1, "v2": 0.00397}]},
      "mark": {"type": "rule", "color": "#000000", "strokeWidth": 1, "strokeDash": [12, 8]},
      "encoding": {
        "x": {"field": "x1", "type": "quantitative"}, "x2": {"field": "x2"},
        "y": {"field": "v1", "type": "quantitative"}, "y2": {"field": "v2"}
      }
    },
    {
      "data": {"values": [{"x1": 155.9, "v1": -0.00842, "x2": 233.6, "v2": -0.00763}]},
      "mark": {"type": "rule", "color": "#000000", "strokeWidth": 1, "strokeDash": [13, 5]},
      "encoding": {
        "x": {"field": "x1", "type": "quantitative"}, "x2": {"field": "x2"},
        "y": {"field": "v1", "type": "quantitative"}, "y2": {"field": "v2"}
      }
    },
    {
      "data": {"values": [{"t": "MACD-2 (50,150,25) 0.0028717 0.0000000 0.0004582 -0.0004990", "x": 0.9, "v": 0.00628}]},
      "mark": {"type": "text", "fontSize": 9.5, "align": "left", "baseline": "middle", "color": "#000000"},
      "encoding": {
        "x": {"field": "x", "type": "quantitative"},
        "y": {"field": "v", "type": "quantitative"},
        "text": {"field": "t"}
      }
    }
  ]
}
]
}
